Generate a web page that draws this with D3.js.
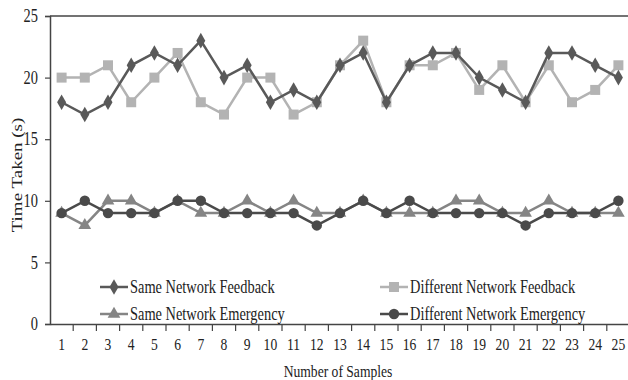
<!DOCTYPE html>
<html>
<head>
<meta charset="utf-8">
<script src="https://cdn.jsdelivr.net/npm/d3@7"></script>
<style>
  body { margin: 0; background: #fff; }
  text { font-family: "Liberation Serif", "Times New Roman", serif; fill: #222; }
</style>
</head>
<body>
<script>
// samples 1..25
var samples = d3.range(1, 26);
var yTicks = [0, 5, 10, 15, 20, 25];

var sameFeedback = [18, 17, 18, 21, 22, 21, 23, 20, 21, 18, 19, 18, 21, 22, 18, 21, 22, 22, 20, 19, 18, 22, 22, 21, 20];
var diffFeedback = [20, 20, 21, 18, 20, 22, 18, 17, 20, 20, 17, 18, 21, 23, 18, 21, 21, 22, 19, 21, 18, 21, 18, 19, 21];
var sameEmergency = [9, 8, 10, 10, 9, 10, 9, 9, 10, 9, 10, 9, 9, 10, 9, 9, 9, 10, 10, 9, 9, 10, 9, 9, 9];
var diffEmergency = [9, 10, 9, 9, 9, 10, 10, 9, 9, 9, 9, 8, 9, 10, 9, 10, 9, 9, 9, 9, 8, 9, 9, 9, 10];

var series = [
  {name: "Same Network Feedback", values: sameFeedback, color: "#595959", symbol: d3.symbolDiamond, size: 70},
  {name: "Different Network Feedback", values: diffFeedback, color: "#b3b3b3", symbol: d3.symbolSquare, size: 100},
  {name: "Same Network Emergency", values: sameEmergency, color: "#858585", symbol: d3.symbolTriangle, size: 70},
  {name: "Different Network Emergency", values: diffEmergency, color: "#4a4a4a", symbol: d3.symbolCircle, size: 85}
];
// draw order: light ones first
var drawOrder = [1, 0, 2, 3];

var width = 628, height = 380;
var margin = {left: 50, top: 16, bottom: 56};
var bandW = 23.2;
var squeeze = "scale(0.8,1)";   // the source text is tall and narrow

var svg = d3.select("body").append("svg")
    .attr("width", width)
    .attr("height", height);

var x = d3.scaleBand()
    .domain(samples)
    .range([margin.left, margin.left + bandW * samples.length])
    .padding(0);

var y = d3.scaleLinear()
    .domain([0, 25])
    .range([height - margin.bottom, margin.top]);

// top frame line
svg.append("line")
    .attr("x1", margin.left).attr("x2", width)
    .attr("y1", y(25)).attr("y2", y(25))
    .attr("stroke", "#444").attr("stroke-width", 1.5);

// y axis
var yAxis = svg.append("g")
    .attr("transform", "translate(" + margin.left + ",0)")
    .call(d3.axisLeft(y).tickValues(yTicks).tickSize(5).tickPadding(10));
yAxis.select(".domain").attr("stroke", "#444").attr("stroke-width", 1.5);
yAxis.selectAll(".tick line").attr("stroke", "#444").attr("stroke-width", 1.2);
yAxis.selectAll("text").style("font-size", "18px").attr("fill", "#222").attr("transform", squeeze);

// x axis, ticks between categories
var xAxis = svg.append("g")
    .attr("transform", "translate(0," + y(0) + ")")
    .call(d3.axisBottom(x).tickSize(0).tickPadding(14));
xAxis.select(".domain").attr("stroke", "#444").attr("stroke-width", 1.5);
xAxis.selectAll("text").style("font-size", "17px").attr("fill", "#222").attr("transform", squeeze);
xAxis.selectAll(".sep")
    .data(samples)
    .enter().append("line")
    .attr("class", "sep")
    .attr("x1", function(d) { return x(d) + x.bandwidth(); })
    .attr("x2", function(d) { return x(d) + x.bandwidth(); })
    .attr("y1", 0).attr("y2", 7)
    .attr("stroke", "#444").attr("stroke-width", 1.2);

// axis titles
svg.append("text")
    .attr("transform", "translate(338,377)" + squeeze)
    .attr("text-anchor", "middle")
    .style("font-size", "17px")
    .text("Number of Samples");

svg.append("text")
    .attr("transform", "translate(22," + 175 + ")rotate(-90)scale(1,0.8)")
    .attr("text-anchor", "middle")
    .style("font-size", "19px")
    .text("Time Taken (s)");

// lines + markers
var line = d3.line()
    .x(function(d, i) { return x(samples[i]) + x.bandwidth() / 2; })
    .y(function(d) { return y(d); });

drawOrder.forEach(function(k) {
  var s = series[k];
  var g = svg.append("g");
  g.append("path")
      .attr("d", line(s.values))
      .attr("fill", "none")
      .attr("stroke", s.color)
      .attr("stroke-width", 2.5);
  g.selectAll("path.pt")
      .data(s.values)
      .enter().append("path")
      .attr("class", "pt")
      .attr("d", d3.symbol().type(s.symbol).size(s.size))
      .attr("transform", function(d, i) {
        return "translate(" + (x(samples[i]) + x.bandwidth() / 2) + "," + y(d) + ")";
      })
      .attr("fill", s.color);
});

// legend
var legendPos = [[100, 287], [380, 287], [100, 314], [380, 314]];
series.forEach(function(s, i) {
  var p = legendPos[i];
  var lg = svg.append("g").attr("transform", "translate(" + p[0] + "," + p[1] + ")");
  lg.append("line")
      .attr("x1", 0).attr("x2", 28)
      .attr("stroke", s.color).attr("stroke-width", 2.5);
  lg.append("path")
      .attr("d", d3.symbol().type(s.symbol).size(s.size))
      .attr("transform", "translate(14,0)")
      .attr("fill", s.color);
  lg.append("text")
      .attr("transform", "translate(30,6)" + squeeze)
      .style("font-size", "18px")
      .text(s.name);
});
</script>
</body>
</html>
